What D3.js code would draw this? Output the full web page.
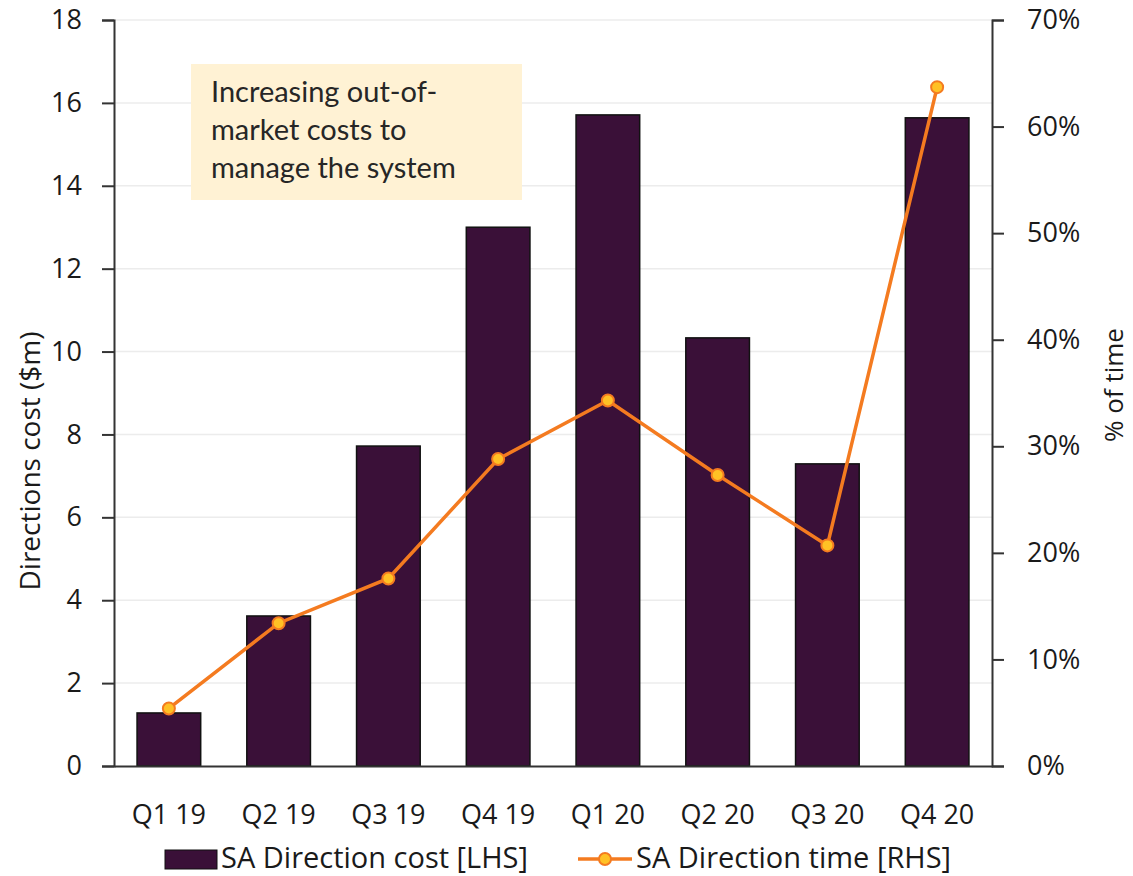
<!DOCTYPE html>
<html>
<head>
<meta charset="utf-8">
<script src="https://cdn.jsdelivr.net/npm/d3@7"></script>
<style>
  body { margin: 0; background: #fff; }
  text { font-family: "Open Sans", "DejaVu Sans", sans-serif; fill: #1a1a1a; }
</style>
</head>
<body>
<svg id="chart" width="1133" height="876"></svg>
<script>
const quarters = ["Q1 19", "Q2 19", "Q3 19", "Q4 19", "Q1 20", "Q2 20", "Q3 20", "Q4 20"];
const costValues = [1.28, 3.62, 7.72, 13.0, 15.71, 10.33, 7.29, 15.64];
const timeValues = [0.054, 0.134, 0.176, 0.288, 0.343, 0.273, 0.207, 0.637];
const leftTicks = [0, 2, 4, 6, 8, 10, 12, 14, 16, 18];
const rightTicks = [0, 0.1, 0.2, 0.3, 0.4, 0.5, 0.6, 0.7];
const noteLines = ["Increasing out-of-", "market costs to", "manage the system"];

const barColor = "#3a1038";
const lineColor = "#f47b20";
const markerFill = "#ffc125";

const svg = d3.select("#chart");
const plotLeft = 114, plotRight = 992, plotTop = 20, plotBottom = 766;

var x = d3.scaleBand().domain(quarters).range([plotLeft, plotRight]).paddingInner(0.42).paddingOuter(0.21);
var yL = d3.scaleLinear().domain([0, 18]).range([plotBottom, plotTop]);
var yR = d3.scaleLinear().domain([0, 0.7]).range([plotBottom, plotTop]);

// gridlines
svg.append("g").selectAll("line")
    .data(leftTicks.slice(1))
    .enter().append("line")
    .attr("x1", plotLeft).attr("x2", plotRight)
    .attr("y1", d => yL(d)).attr("y2", d => yL(d))
    .attr("stroke", "#ececec").attr("stroke-width", 1.5);

// annotation box
const note = svg.append("g");
note.append("rect")
    .attr("x", 191).attr("y", 64).attr("width", 331).attr("height", 136)
    .attr("fill", "#fff2d4");
note.selectAll("text")
    .data(noteLines)
    .enter().append("text")
    .attr("x", 211)
    .attr("y", (d, i) => 102 + i * 38)
    .style("font-family", "Lato, 'Open Sans', sans-serif")
    .style("font-size", "29px")
    .style("fill", "#262626")
    .text(d => d);

// bars
svg.append("g").selectAll("rect")
    .data(costValues)
    .enter().append("rect")
    .attr("x", (d, i) => x(quarters[i]))
    .attr("width", x.bandwidth())
    .attr("y", d => yL(d))
    .attr("height", d => plotBottom - yL(d))
    .attr("fill", barColor)
    .attr("stroke", "#111")
    .attr("stroke-width", 1.5);

// axes
const fontSize = "27px";
const axL = svg.append("g")
    .attr("transform", `translate(${plotLeft},0)`)
    .call(d3.axisLeft(yL).tickValues(leftTicks).tickSize(12).tickPadding(20));
const axR = svg.append("g")
    .attr("transform", `translate(${plotRight},0)`)
    .call(d3.axisRight(yR).tickValues(rightTicks).tickSize(12).tickPadding(23).tickFormat(d3.format(".0%")));
[axL, axR].forEach(a => {
  a.select(".domain").attr("stroke", "#333").attr("stroke-width", 2);
  a.selectAll(".tick line").attr("stroke", "#333").attr("stroke-width", 2);
  a.selectAll(".tick text").style("font-size", fontSize).style("fill", "#1a1a1a");
});
const axX = svg.append("g")
    .attr("transform", `translate(0,${plotBottom})`)
    .call(d3.axisBottom(x).tickSize(0).tickPadding(39));
axX.select(".domain").attr("stroke", "#333").attr("stroke-width", 2);
axX.selectAll(".tick text").style("font-size", fontSize).style("fill", "#1a1a1a");

// axis titles
svg.append("text")
    .attr("transform", `translate(40,461) rotate(-90)`)
    .attr("text-anchor", "middle")
    .style("font-size", "28px")
    .text("Directions cost ($m)");
svg.append("text")
    .attr("transform", `translate(1123,385) rotate(-90)`)
    .attr("text-anchor", "middle")
    .style("font-size", "26px")
    .text("% of time");

// line
const line = d3.line()
    .x((d, i) => x(quarters[i]) + x.bandwidth() / 2)
    .y(d => yR(d));
svg.append("path")
    .datum(timeValues)
    .attr("d", line)
    .attr("fill", "none")
    .attr("stroke", lineColor)
    .attr("stroke-width", 3.5);
svg.append("g").selectAll("circle")
    .data(timeValues)
    .enter().append("circle")
    .attr("cx", (d, i) => x(quarters[i]) + x.bandwidth() / 2)
    .attr("cy", d => yR(d))
    .attr("r", 6)
    .attr("fill", markerFill)
    .attr("stroke", lineColor)
    .attr("stroke-width", 2);

// legend
const leg = svg.append("g");
leg.append("rect")
    .attr("x", 165).attr("y", 850).attr("width", 52).attr("height", 19)
    .attr("fill", barColor).attr("stroke", "#111").attr("stroke-width", 1);
leg.append("text")
    .attr("x", 221).attr("y", 868)
    .style("font-size", "29px")
    .text("SA Direction cost [LHS]");
leg.append("line")
    .attr("x1", 578).attr("x2", 632).attr("y1", 859).attr("y2", 859)
    .attr("stroke", lineColor).attr("stroke-width", 3.5);
leg.append("circle")
    .attr("cx", 605).attr("cy", 859).attr("r", 6)
    .attr("fill", markerFill).attr("stroke", lineColor).attr("stroke-width", 2);
leg.append("text")
    .attr("x", 636).attr("y", 868)
    .style("font-size", "29px")
    .text("SA Direction time [RHS]");
</script>
</body>
</html>
